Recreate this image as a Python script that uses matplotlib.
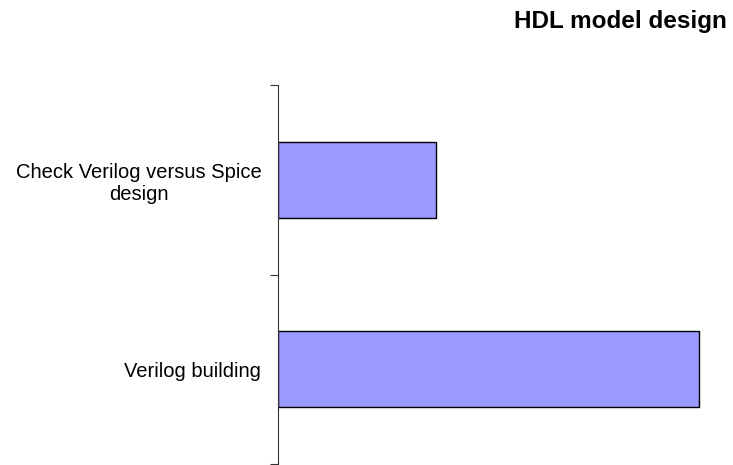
import numpy as np
import matplotlib.pyplot as plt
from matplotlib.ticker import FixedLocator, NullFormatter

plt.rcParams['font.family'] = ['Liberation Sans', 'DejaVu Sans']

# data, top to bottom as in the chart
tasks = ['Check Verilog versus Spice\ndesign', 'Verilog building']
effort = [3, 8]
title = 'HDL model design'

fig = plt.figure(figsize=(7.33, 4.65), dpi=100)
ax = fig.add_axes([278 / 733, 1 / 465, 442 / 733, 379 / 465])

# barh draws bottom-up, so reverse
y = np.arange(len(tasks))[::-1]
ax.barh(y, effort, height=0.4, color='#9999FF', edgecolor='black', linewidth=1.0)

ax.set_xlim(0, 8 * 442 / 421)
ax.set_ylim(-0.5, len(tasks) - 0.5)

# ticks on category boundaries, labels at centres
ax.yaxis.set_major_locator(FixedLocator(np.arange(-0.5, len(tasks), 1.0)))
ax.yaxis.set_major_formatter(NullFormatter())
ax.yaxis.set_minor_locator(FixedLocator(y))
ax.set_yticks(y, tasks, minor=True)
ax.tick_params(axis='y', which='major', direction='out', length=6, width=0.8, color='#333333')
ax.tick_params(axis='y', which='minor', length=0, pad=12, labelsize=14.5)
for lab in ax.get_yticklabels(minor=True):
    lab.set_multialignment('center')
    lab.set_linespacing(1.25)

ax.set_xticks([])
for s in ['top', 'right', 'bottom']:
    ax.spines[s].set_visible(False)
ax.spines['left'].set_color('#333333')
ax.spines['left'].set_linewidth(0.8)

fig.text(727 / 733, 1 - 28 / 465, title, ha='right', va='baseline',
         fontsize=17.5, fontweight='bold')

fig.savefig('out.png', dpi=100)
